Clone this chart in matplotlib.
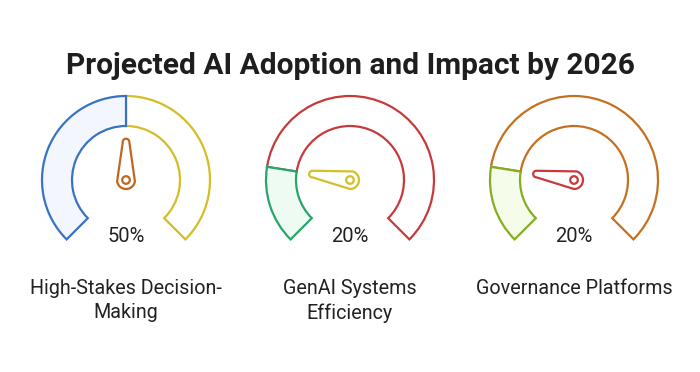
import matplotlib.pyplot as plt, numpy as np
from matplotlib.patches import Wedge, Circle, Polygon

plt.rcParams['font.family'] = ['Roboto', 'DejaVu Sans']

title = 'Projected AI Adoption and Impact by 2026'
labels = ['High-Stakes Decision-\nMaking', 'GenAI Systems\nEfficiency', 'Governance Platforms']
values = [50, 20, 20]                                   # percent
fill_cols = ['#3a72c2', '#27a56a', '#84ad20']           # filled part
fill_bg = ['#f3f7fd', '#eefbf3', '#f6fcea']
rest_cols = ['#d6bd25', '#c73a3a', '#c4711f']           # rest of the arc
needle_cols = ['#c0661f', '#d3bf28', '#c93a3c']
cx = [126, 350, 574]                                    # gauge centres (px)

W, H = 700, 372
fig = plt.figure(figsize=(W/100, H/100), dpi=100)
ax = fig.add_axes([0, 0, 1, 1])
ax.set_xlim(0, W); ax.set_ylim(0, H)
ax.set_aspect('equal'); ax.axis('off')

cy = H - 180                 # centre height
R, w = 84, 30                # outer radius, band width
a0, a1 = 225, -45            # gauge runs clockwise from a0 to a1
lw = 1.6

def needle(x, y, ang, col, L=38, r0=9, r1=3.3):
    t = np.radians(ang)
    tx, ty = x + L*np.cos(t), y + L*np.sin(t)
    # outline of two circles joined by tangents
    phi = np.arcsin((r0 - r1)/L)
    ts = np.linspace(t + np.pi/2 + phi, t + 3*np.pi/2 - phi, 40)
    te = np.linspace(t - np.pi/2 + phi, t + np.pi/2 + phi, 20)
    pts = [(x + r0*np.cos(a), y + r0*np.sin(a)) for a in ts]
    pts += [(tx + r1*np.cos(a), ty + r1*np.sin(a)) for a in te]
    ax.add_patch(Polygon(pts, closed=True, fc='white', ec=col, lw=lw))
    ax.add_patch(Circle((x, y), 3.8, fc='white', ec=col, lw=lw))

for i in range(3):
    va = a0 - values[i]/100*(a0 - a1)
    ax.add_patch(Wedge((cx[i], cy), R, a1, va, width=w, fc='white', ec=rest_cols[i], lw=lw))
    ax.add_patch(Wedge((cx[i], cy), R, va, a0, width=w, fc=fill_bg[i], ec=fill_cols[i], lw=lw))
    needle(cx[i], cy, va, needle_cols[i])
    ax.text(cx[i], H - 236, f'{values[i]}%', ha='center', va='center', fontsize=14.5, color='#222222')
    ax.text(cx[i], H - 279, labels[i], ha='center', va='top', fontsize=14.2,
            color='#222222', linespacing=1.35)

ax.text(W/2, H - 66, title, ha='center', va='center', fontsize=21.5, fontweight='bold', color='#1e1e1e')

fig.savefig('out.png', dpi=100, facecolor='white')
